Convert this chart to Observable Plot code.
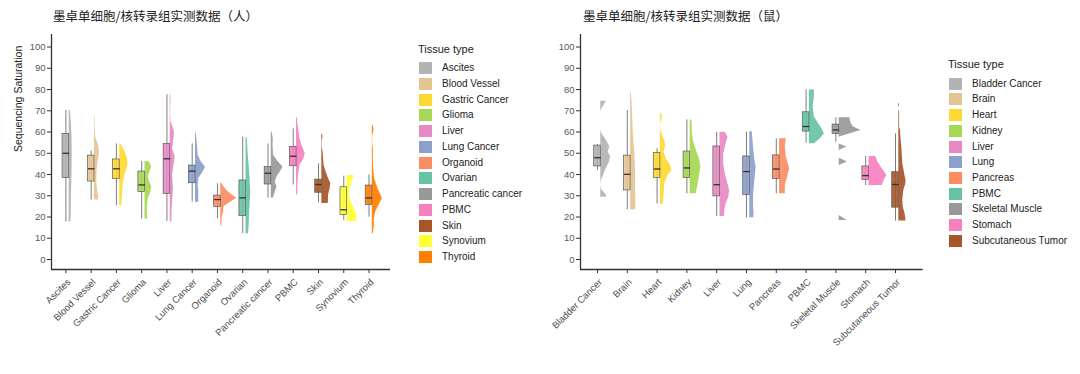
<!DOCTYPE html>
<html><head><meta charset="utf-8">
<script src="https://cdn.jsdelivr.net/npm/d3@7"></script>
<script src="https://cdn.jsdelivr.net/npm/@observablehq/plot@0.6"></script>
<style>
body{margin:0;background:#fff;font-family:"Liberation Sans",Arial,sans-serif}
#wrap{position:relative;width:1080px;height:374px;overflow:hidden;background:#fff}
.title{position:absolute;top:8px;font-family:"Noto Sans CJK SC",sans-serif;font-size:12.5px;line-height:16px;color:#222;white-space:nowrap}
.lg{position:absolute;font-size:10px;line-height:12px;color:#222;white-space:nowrap}
.lgt{position:absolute;font-size:11px;line-height:14px;color:#222;white-space:nowrap}
.sw{position:absolute;width:13px;height:12px}
.panel{position:absolute;top:0}
</style></head>
<body><div id="wrap"></div>
<script>
// ---------- Human (人) ----------
const humanCats = ["Ascites","Blood Vessel","Gastric Cancer","Glioma","Liver","Lung Cancer","Organoid","Ovarian","Pancreatic cancer","PBMC","Skin","Synovium","Thyroid"];
const humanColors = ["#b3b3b3","#e5c494","#ffd92f","#a6d854","#e78ac3","#8da0cb","#fc8d62","#66c2a5","#999999","#f781bf","#a65628","#ffff33","#ff7f00"];
const humanMin    = [17.6, 28.0, 25.4, 19.1, 17.9, 27.0, 19.1, 12.1, 28.9, 35.1, 26.7, 18.4, 19.9];
const humanQ1     = [38.4, 36.7, 37.9, 31.8, 30.9, 35.9, 24.7, 20.4, 35.3, 43.9, 31.4, 21.0, 25.7];
const humanMedian = [50.0, 42.7, 42.7, 35.1, 47.4, 41.6, 28.2, 29.0, 40.6, 48.6, 35.3, 23.4, 29.0];
const humanQ3     = [59.1, 48.9, 47.1, 41.4, 54.4, 44.2, 30.1, 37.2, 43.5, 53.0, 37.6, 34.0, 34.8];
const humanMax    = [70.1, 51.0, 54.4, 46.1, 77.5, 54.4, 35.6, 57.6, 54.4, 61.5, 45.0, 39.2, 39.8];
// density profiles: [value, density]
const humanDensity = [
  [[17.5,1.5],[20,2],[30,2.2],[40,2.8],[50,3],[58,2.8],[65,2],[70.1,1.2]],
  [[28,4],[30,4],[33,3],[37,2.3],[41,2.5],[45,3.3],[48,4.5],[51,5],[54,4],[57,1.5],[60,0.7],[64,0.6],[67.4,0.5]],
  [[25.4,2],[30,2.7],[35,3.3],[39.6,5],[42.7,7.3],[45,8.3],[47.4,7.7],[50.5,5.7],[53,3],[54.4,1]],
  [[19.1,2.7],[24,2.3],[28.7,3.3],[31.8,6],[34.2,6.7],[36.5,4.7],[38.9,3.3],[41.2,5],[43.5,6.7],[45.5,5],[46.1,3]],
  [[17.6,1.7],[22.3,1.7],[27,2.3],[33.3,3.3],[39.6,2.3],[44.2,3.7],[48.2,5],[52.1,2.3],[56.8,3.7],[59.9,4.3],[63,2.3],[64.6,0.8],[68,0.4],[72,0.4],[75,0.8],[77.5,0.6]],
  [[27,3.3],[31.8,3.3],[34.8,2.7],[38.1,3.3],[41.2,7.7],[43.5,10],[45.8,6],[48.9,2.7],[53.6,2],[58.3,1],[59.9,0.5]],
  [[15.8,1],[17.6,1.3],[20,1.5],[22.4,3],[24.7,3],[27,10],[28.8,16],[30.1,12],[32.5,6],[34.8,2.3],[35.9,0.8]],
  [[12.1,2.5],[15,3],[18.9,3.3],[25.2,4],[31.8,4.7],[38,4],[42.7,3.3],[50.5,2],[56.8,1.3],[57.6,0.5]],
  [[28.9,2],[31.8,4],[34.2,5.7],[36.5,4],[38.9,5.7],[41.2,9],[43.5,11.7],[45.8,7.3],[48.9,2.3],[53.6,1.7],[57,2],[59.9,0.8]],
  [[30.4,1.2],[34.8,1.3],[39.6,2],[44.2,3.3],[47.4,7.3],[49.8,8.7],[53,6],[56.8,3.3],[61.5,2],[66.7,0.7]],
  [[26.4,6.5],[28,6.7],[30.1,6.7],[33.3,8.3],[35.8,9],[38.1,6.7],[41.2,4.3],[44.2,2.3],[48,1.7],[51,1.2],[53,0.4],[56,0.4],[57.5,1.2],[59,0.8]],
  [[17.9,9.7],[20.8,9.7],[23.9,7.3],[27,4],[30.1,2.3],[33.3,3],[36.3,5],[39,6.7],[39.5,6.7]],
  [[12.1,1],[16,2],[19.2,2],[22.4,3.3],[25.5,6.7],[28.6,10],[31,8],[33.3,5.7],[38,2.3],[42.7,1.3],[47,1],[52,1],[55,0.3],[58,0.3],[61,1.7],[63,1]]
];

// ---------- Mouse (鼠) ----------
const mouseCats = ["Bladder Cancer","Brain","Heart","Kidney","Liver","Lung","Pancreas","PBMC","Skeletal Muscle","Stomach","Subcutaneous Tumor"];
const mouseColors = ["#b3b3b3","#e5c494","#ffd92f","#a6d854","#e78ac3","#8da0cb","#fc8d62","#66c2a5","#999999","#f781bf","#a65628"];
const mouseMin    = [42.0, 23.4, 26.2, 30.9, 20.2, 19.6, 30.9, 54.8, 55.2, 34.8, 18.1];
const mouseQ1     = [43.8, 32.5, 38.4, 38.4, 29.7, 30.4, 37.9, 60.2, 59.1, 37.5, 24.4];
const mouseMedian = [47.9, 40.1, 42.6, 43.1, 35.2, 41.4, 42.6, 62.6, 61.0, 39.5, 35.3];
const mouseQ3     = [53.6, 48.9, 50.1, 50.8, 53.2, 48.5, 49.0, 69.3, 63.5, 43.8, 41.1];
const mouseMax    = [54.0, 70.1, 52.1, 65.7, 59.9, 59.9, 56.8, 79.8, 66.7, 48.5, 59.1];
const mouseDensity = [
  [[29.3,5.7],[30.1,5.7],[33.2,0.5],[35,0],[37.3,0.5],[38.9,2.3],[42,4.7],[45.1,8],[48.2,10],[50.6,7.3],[52.9,9],[56,5.7],[59.1,1.3],[61,0],[69,0],[70.1,0.3],[74.5,5.7]],
  [[23.4,5],[26.2,5.3],[32.5,5],[40.4,5],[49.8,4.3],[59.1,2.7],[68.5,2],[75,1.3],[78.7,0.6]],
  [[26,3],[30.9,3.7],[35.7,4.3],[39.6,7.7],[41.9,11.7],[44.2,10.3],[47.3,6],[50.4,3.7],[53.6,5.3],[56,4.3],[59.1,1.7],[61,0.3],[64,0.3],[66,1.7],[68.6,1.5]],
  [[30.9,6.3],[31.8,6.3],[35.7,8],[40.4,9.7],[43.5,10.7],[46.6,9.7],[51.3,6.3],[56,3],[60.7,2],[64,2],[65.7,1.5]],
  [[20.2,4.7],[22.9,4.7],[26,6],[29.2,8.7],[32.3,9.7],[35.5,8],[40.2,5.3],[44.9,3.7],[49.6,3.7],[54.4,6],[57.5,8],[59.9,5.3]],
  [[19.6,4],[21.5,4.3],[25,3.7],[29.4,3.7],[33,4.3],[37.2,5],[40,5.7],[43.5,6.3],[47,5],[53,3.7],[57,3],[60.1,2.5]],
  [[30.9,5.7],[34.8,5.7],[38.7,8],[42.6,10],[45.5,8.5],[48.2,6.7],[52.9,5.7],[56.8,6.7]],
  [[54.5,5],[56.8,11],[59.1,15],[61.5,12.5],[63.9,9.3],[67,5],[71.7,3.7],[76.4,5],[79.8,5]],
  [[18.4,8],[20.7,0],[44.2,0],[45.9,8.3],[47.7,0],[51.3,0],[52.9,7.7],[54.4,0],[57.6,0],[58.5,6],[60.7,21.7],[62.5,14],[64,12],[65.5,11],[66.7,11]],
  [[34.8,13.3],[37.1,15],[39.5,17.7],[41,16],[42.7,13.3],[45.8,9],[48.5,6.7]],
  [[18.1,7.3],[21.5,6.3],[24.5,4.5],[27.8,4],[32.5,5],[35.5,7],[37.1,7.3],[40,6],[45.1,4],[52.9,3],[58,2],[60.7,1.7],[62.3,0.8],[69.3,0.8],[70.5,0],[71.5,0],[72,0.7],[73.3,0.7]]
];

const yTicks = [0,10,20,30,40,50,60,70,80,90,100];
const legendTitle = "Tissue type";
const yTitle = "Sequencing Saturation";
const titles = ["墨卓单细胞/核转录组实测数据（人）","墨卓单细胞/核转录组实测数据（鼠）"];

const YDOM = [-4.7, 105.9];

function panel(o) {
  const W = 400, H = 374, mt = 34, mb = 105;
  const n = o.cats.length;
  const idx = d3.range(n);
  const xdom = [-0.57, n - 1 + o.rightPad];
  const ppu = (W - o.ml - o.mr) / (xdom[1] - xdom[0]);
  const bh = 3.3 / ppu;
  const boxes = idx.map(i => ({i, cat: o.cats[i], color: o.colors[i], min: o.min[i], q1: o.q1[i], med: o.med[i], q3: o.q3[i], max: o.max[i]}));
  const vio = idx.flatMap(i => o.dens[i].map(([v, w]) => ({i, color: o.colors[i], v, w})));
  const marks = [
    Plot.ruleX(boxes, {x: "i", y1: "min", y2: "max", stroke: "#7d7d7d", strokeWidth: 1}),
    Plot.areaX(vio, {y: "v", x1: d => d.i + bh, x2: d => d.i + bh + d.w / ppu, z: "i", fill: "color", fillOpacity: 0.92}),
    Plot.rect(boxes, {x1: d => d.i - bh, x2: d => d.i + bh, y1: "q1", y2: "q3", fill: "color", fillOpacity: 0.9, stroke: "#5a5a5a", strokeWidth: 0.7}),
    Plot.link(boxes, {x1: d => d.i - bh, x2: d => d.i + bh, y1: "med", y2: "med", stroke: "#333", strokeWidth: 1.3}),
    Plot.ruleX([xdom[0]], {stroke: "#333", strokeWidth: 1.3}),
    Plot.ruleY([YDOM[0]], {stroke: "#333", strokeWidth: 1.3}),
    Plot.axisY({ticks: yTicks, tickSize: 4, tickPadding: 2, fontSize: 9.5, stroke: "#333", fill: "#5a5a5a", label: null}),
    Plot.axisX({ticks: idx, tickSize: 4, tickFormat: () => "", stroke: "#333", label: null}),
    Plot.text(boxes, {x: "i", y: YDOM[0], text: "cat", rotate: -45, textAnchor: "end", dx: 3, dy: 11, fontSize: 9.5, fill: "#4d4d4d"})
  ];
  if (o.ylabel) marks.push(Plot.text([o.ylabel], {frameAnchor: "left", rotate: -90, dx: -33, fontSize: 10.5, fill: "#222"}));
  return Plot.plot({
    width: W, height: H, marginTop: mt, marginBottom: mb, marginLeft: o.ml, marginRight: o.mr,
    x: {domain: xdom},
    y: {domain: YDOM},
    color: {type: "identity"},
    style: {fontFamily: "'Liberation Sans', Arial, sans-serif", background: "transparent", overflow: "visible"},
    marks
  });
}

const wrap = document.getElementById("wrap");
function place(el, left) { el.classList.add("panel"); el.style.left = left + "px"; wrap.appendChild(el); }

place(panel({cats: humanCats, colors: humanColors, min: humanMin, q1: humanQ1, med: humanMedian, q3: humanQ3, max: humanMax, dens: humanDensity, ml: 51, mr: 10, rightPad: 0.85, ylabel: yTitle}), 0);
place(panel({cats: mouseCats, colors: mouseColors, min: mouseMin, q1: mouseQ1, med: mouseMedian, q3: mouseQ3, max: mouseMax, dens: mouseDensity, ml: 50, mr: 7.3, rightPad: 0.93, ylabel: null}), 530);

function addTitle(text, left) {
  const d = document.createElement("div"); d.className = "title"; d.textContent = text; d.style.left = left + "px"; wrap.appendChild(d);
}
addTitle(titles[0], 53);
addTitle(titles[1], 583);

function legend(cats, colors, left, titleTop, firstTop) {
  const t = document.createElement("div"); t.className = "lgt"; t.textContent = legendTitle;
  t.style.left = left + "px"; t.style.top = titleTop + "px"; wrap.appendChild(t);
  cats.forEach((c, i) => {
    const top = firstTop + i * 15.72;
    const s = document.createElement("div"); s.className = "sw"; s.style.background = colors[i];
    s.style.left = (left + 1) + "px"; s.style.top = top + "px"; wrap.appendChild(s);
    const l = document.createElement("div"); l.className = "lg"; l.textContent = c;
    l.style.left = (left + 24) + "px"; l.style.top = top + "px"; wrap.appendChild(l);
  });
}
legend(humanCats, humanColors, 418, 41.5, 62.3);
legend(mouseCats, mouseColors, 948, 57, 77.7);
</script>
</body></html>
